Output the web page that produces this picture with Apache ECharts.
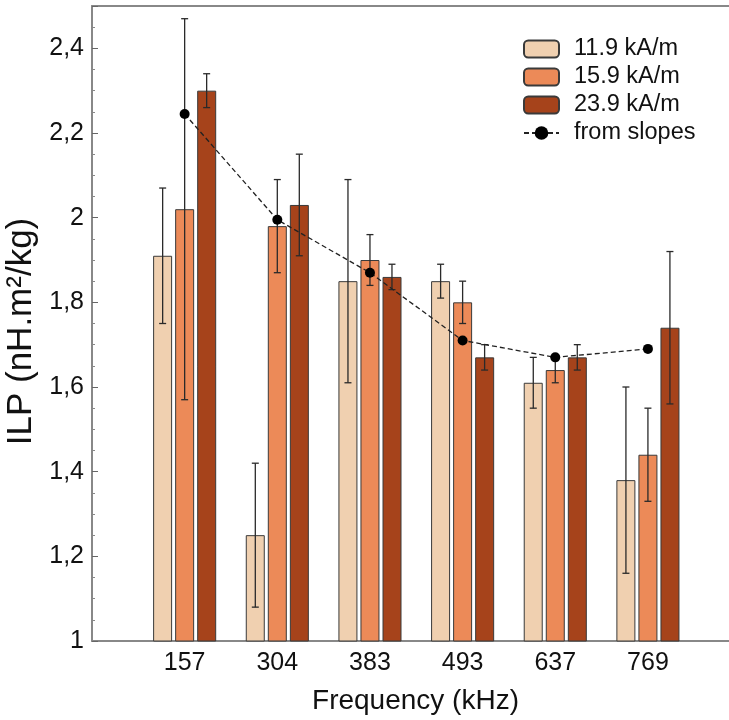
<!DOCTYPE html>
<html><head><meta charset="utf-8">
<script src="https://cdn.jsdelivr.net/npm/echarts@6/dist/echarts.min.js"></script>
<style>html,body{margin:0;padding:0;background:#fff}#c{width:729px;height:720px}</style>
</head><body><div id="c"></div>
<script>
const categories = ['157', '304', '383', '493', '637', '769'];
const seriesNames = ['11.9 kA/m', '15.9 kA/m', '23.9 kA/m'];
const values119 = [1.91, 1.25, 1.85, 1.85, 1.61, 1.38];
const err119    = [0.16, 0.17, 0.24, 0.04, 0.06, 0.22];
const values159 = [2.02, 1.98, 1.90, 1.80, 1.64, 1.44];
const err159    = [0.45, 0.11, 0.06, 0.05, 0.03, 0.11];
const values239 = [2.30, 2.03, 1.86, 1.67, 1.67, 1.74];
const err239    = [0.04, 0.12, 0.03, 0.03, 0.03, 0.18];
const slopeName = 'from slopes';
const slopeValues = [2.245, 1.995, 1.87, 1.71, 1.67, 1.69];
const yMin = 1, yMax = 2.5, yStep = 0.2;
const xName = 'Frequency (kHz)';
const yName = 'ILP (nH.m²/kg)';

const FONT = 'Liberation Sans';
const colors = ['#F0D0B0', '#EC8A58', '#A6431B'];
const BAR_W = 19;
const offsets = [-22, 0, 22];
const xMaxPos = 6.875;

function barSeries(name, vals, color) {
  return {
    type: 'bar', name: name, barWidth: BAR_W, barGap: '16%',
    data: vals.map((v, i) => [i + 1, v]),
    itemStyle: { color: color, borderColor: '#3a3a3a', borderWidth: 1 },
    z: 2
  };
}
function errSeries(id, vals, errs, off) {
  return {
    type: 'custom', name: id,
    data: vals.map((v, i) => [i + 1, v - errs[i], v + errs[i]]),
    encode: { x: 0, y: [1, 2] },
    renderItem: function (params, api) {
      const lo = api.coord([api.value(0), api.value(1)]);
      const hi = api.coord([api.value(0), api.value(2)]);
      const x = lo[0] + off;
      const cw = 3.5;
      const st = { stroke: '#2a2a2a', lineWidth: 1.3 };
      return {
        type: 'group', children: [
          { type: 'line', shape: { x1: x, y1: lo[1], x2: x, y2: hi[1] }, style: st },
          { type: 'line', shape: { x1: x - cw, y1: lo[1], x2: x + cw, y2: lo[1] }, style: st },
          { type: 'line', shape: { x1: x - cw, y1: hi[1], x2: x + cw, y2: hi[1] }, style: st }
        ]
      };
    },
    z: 3, silent: true
  };
}

const chart = echarts.init(document.getElementById('c'), null, { renderer: 'canvas' });
chart.setOption({
  animation: false,
  textStyle: { fontFamily: FONT },
  grid: { left: 92, right: 0, top: 6, bottom: 79, containLabel: false, outerBoundsMode: 'none' },
  legend: {
    data: seriesNames.concat([slopeName]),
    orient: 'vertical', left: 518, top: 32,
    itemWidth: 35, itemHeight: 17, itemGap: 4,
    textStyle: { fontFamily: FONT, fontSize: 23.5, color: '#111', padding: [0, 0, 0, 10] }
  },
  xAxis: [{
    type: 'value', min: 0, max: xMaxPos, interval: 1,
    name: xName, nameLocation: 'middle', nameGap: 46,
    nameTextStyle: { fontFamily: FONT, fontSize: 28, color: '#111', padding: [0, 0, 0, 10] },
    axisLine: { show: true, onZero: false, lineStyle: { color: '#888', width: 2 } },
    axisTick: { show: false },
    splitLine: { show: false },
    axisLabel: {
      fontFamily: FONT, fontSize: 25, color: '#111', margin: 10,
      formatter: v => (Number.isInteger(v) && v >= 1 && v <= categories.length) ? categories[v - 1] : ''
    }
  }, {
    type: 'value', position: 'top', min: 0, max: xMaxPos,
    axisLine: { show: true, lineStyle: { color: '#888', width: 2 } },
    axisTick: { show: false }, axisLabel: { show: false }, splitLine: { show: false }
  }],
  yAxis: {
    type: 'value', min: yMin, max: yMax, interval: yStep,
    name: yName, nameLocation: 'middle', nameGap: 48,
    nameTextStyle: { fontFamily: FONT, fontSize: 35, color: '#111', padding: [0, 16, 0, 0] },
    axisLine: { show: true, lineStyle: { color: '#888', width: 2 } },
    axisTick: { show: true, inside: true, length: 6, lineStyle: { color: '#666', width: 1 } },
    minorTick: { show: true, splitNumber: 4, length: 3, lineStyle: { color: '#888', width: 1 } },
    splitLine: { show: false },
    axisLabel: {
      fontFamily: FONT, fontSize: 25, color: '#111', margin: 8,
      formatter: v => (Math.abs(v - yMax) < 1e-9) ? '' : String(+v.toFixed(1)).replace('.', ',')
    }
  },
  series: [
    barSeries(seriesNames[0], values119, colors[0]),
    barSeries(seriesNames[1], values159, colors[1]),
    barSeries(seriesNames[2], values239, colors[2]),
    errSeries('e1', values119, err119, offsets[0]),
    errSeries('e2', values159, err159, offsets[1]),
    errSeries('e3', values239, err239, offsets[2]),
    {
      type: 'line', name: slopeName,
      data: slopeValues.map((v, i) => [i + 1, v]),
      symbol: 'circle', symbolSize: 10,
      itemStyle: { color: '#000' },
      lineStyle: { color: '#222', width: 1.3, type: [5, 3] },
      z: 5
    }
  ]
});
</script>
</body></html>
